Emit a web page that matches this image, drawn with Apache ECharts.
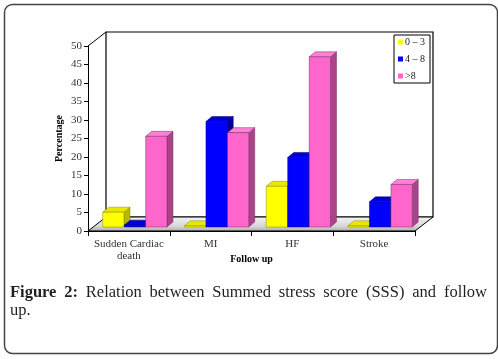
<!DOCTYPE html>
<html>
<head>
<meta charset="utf-8">
<script src="https://cdn.jsdelivr.net/npm/echarts@6/dist/echarts.min.js"></script>
<style>
  html, body { margin: 0; padding: 0; background: #fff; }
  #chart { width: 498px; height: 359px; }
</style>
</head>
<body>
<div id="chart"></div>
<script>
var categories = ['Sudden Cardiac\ndeath', 'MI', 'HF', 'Stroke'];
var groupNames = ['0 \u2013 3', '4 \u2013 8', '>8'];
var low = [4, 0.3, 11, 0.3];        // 0 - 3
var mid = [0.5, 28.5, 18.8, 6.8];   // 4 - 8
var high = [24.5, 25.5, 46, 11.5];  // >8
var yTicks = { min: 0, max: 50, step: 5 };

var faceColors = [
  { front: '#ffff00', top: '#e8e800', side: '#b8b800', line: '#8a8a00' },
  { front: '#0000ff', top: '#0000d8', side: '#000099', line: '#000066' },
  { front: '#ff66cc', top: '#ff80d4', side: '#a8458a', line: '#7a2f63' }
];

var DX = 6, DY = -5;       // bar depth
var WX = 18, WY = -14;     // wall depth

var chart = echarts.init(document.getElementById('chart'));

function toData(arr) {
  return arr.map(function (v, i) { return [i, v]; });
}

function wallsItem(params, api) {
  var band = api.size([1, 0])[0];
  var a = api.coord([0, yTicks.min]);
  var b = api.coord([categories.length - 1, yTicks.max]);
  var x1 = a[0] - band / 2, x2 = b[0] + band / 2;
  var y1 = b[1], y0 = a[1];
  return {
    type: 'group',
    children: [
      { type: 'polygon', shape: { points: [[x1 + WX, y1 + WY], [x2 + WX, y1 + WY], [x2 + WX, y0 + WY], [x1 + WX, y0 + WY]] },
        style: { fill: '#fff', stroke: '#000', lineWidth: 1.2 } },
      { type: 'polygon', shape: { points: [[x1, y0], [x1 + WX, y0 + WY], [x2 + WX, y0 + WY], [x2, y0]] },
        style: { fill: new echarts.graphic.LinearGradient(0, 1, 0, 0, [
          { offset: 0, color: '#a9a9a9' }, { offset: 0.35, color: '#d6d6d6' }, { offset: 1, color: '#f4f4f4' }]),
          stroke: '#000', lineWidth: 1 } },
      { type: 'line', shape: { x1: x1, y1: y1, x2: x1 + WX, y2: y1 + WY }, style: { stroke: '#000', lineWidth: 1 } }
    ]
  };
}

function makeBarRender(k) {
  var c = faceColors[k];
  return function (params, api) {
    var cat = api.value(0);
    var base = api.coord([cat, 0]);
    var top = api.coord([cat, api.value(1)]);
    var band = api.size([1, 0])[0];
    var w = band * 0.26;
    var x0 = base[0] - band * 0.32 + k * band * 0.263;
    var x1 = x0 + w;
    var yb = base[1] - 4, yt = top[1] - 4;
    return {
      type: 'group',
      children: [
        { type: 'polygon', shape: { points: [[x1, yb], [x1 + DX, yb + DY], [x1 + DX, yt + DY], [x1, yt]] },
          style: { fill: c.side, stroke: c.line, lineWidth: 0.5 } },
        { type: 'polygon', shape: { points: [[x0, yt], [x0 + DX, yt + DY], [x1 + DX, yt + DY], [x1, yt]] },
          style: { fill: c.top, stroke: c.line, lineWidth: 0.5 } },
        { type: 'rect', shape: { x: x0, y: yt, width: w, height: yb - yt },
          style: { fill: c.front, stroke: c.line, lineWidth: 0.5 } }
      ]
    };
  };
}

// justified caption, laid out word by word
var capFont = '"Liberation Serif", serif';
var ctx = document.createElement('canvas').getContext('2d');
var capWords = [
  { t: 'Figure', b: true }, { t: '2:', b: true }, { t: 'Relation' }, { t: 'between' },
  { t: 'Summed' }, { t: 'stress' }, { t: 'score' }, { t: '(SSS)' }, { t: 'and' }, { t: 'follow' }
];
var capLeft = 10, capRight = 487, capSize = 16.5;
var widths = capWords.map(function (w) {
  ctx.font = (w.b ? 'bold ' : '') + capSize + 'px ' + capFont;
  return ctx.measureText(w.t).width;
});
var total = widths.reduce(function (s, v) { return s + v; }, 0);
var gap = (capRight - capLeft - total) / (capWords.length - 1);
var captionEls = [];
var cx = capLeft;
capWords.forEach(function (w, i) {
  captionEls.push({
    type: 'text', x: cx, y: 293,
    style: { text: w.t, font: (w.b ? 'bold ' : '') + capSize + 'px ' + capFont, fill: '#231f20', verticalAlign: 'middle' }
  });
  cx += widths[i] + gap;
});
captionEls.push({
  type: 'text', x: capLeft, y: 311,
  style: { text: 'up.', font: capSize + 'px ' + capFont, fill: '#231f20', verticalAlign: 'middle' }
});

var option = {
  animation: false,
  textStyle: { fontFamily: 'Liberation Serif' },
  graphic: [
    { type: 'rect', left: 2, top: 2, shape: { width: 493, height: 349, r: 8 },
      style: { fill: 'none', stroke: '#444', lineWidth: 1.5 }, z: -1 }
  ].concat(captionEls),
  legend: {
    data: groupNames,
    orient: 'vertical',
    left: 394, top: 35,
    padding: [2, 5, 2, 4],
    itemGap: 7,
    itemWidth: 5, itemHeight: 5,
    icon: 'rect',
    backgroundColor: '#fff',
    borderColor: '#000', borderWidth: 1,
    textStyle: { fontSize: 10, color: '#222', fontFamily: 'Liberation Serif', padding: [0, 0, 0, -3] }
  },
  grid: { left: 88, right: 83, top: 46, bottom: 128 },
  xAxis: {
    type: 'category',
    data: categories,
    name: 'Follow up',
    nameLocation: 'middle',
    nameGap: 23,
    nameMoveOverlap: false,
    nameTextStyle: { fontWeight: 'bold', fontSize: 10, color: '#000' },
    axisLine: { lineStyle: { color: '#000', width: 1 } },
    axisTick: { show: true, length: 5, lineStyle: { color: '#000' } },
    axisLabel: { interval: 0, fontSize: 11, color: '#333', margin: 7, lineHeight: 12 },
    splitLine: { show: false }
  },
  yAxis: {
    type: 'value',
    min: yTicks.min, max: yTicks.max, interval: yTicks.step,
    name: 'Percentage',
    nameLocation: 'middle',
    nameGap: 24,
    nameMoveOverlap: false,
    nameRotate: 90,
    nameTextStyle: { fontWeight: 'bold', fontSize: 10, color: '#000' },
    axisLine: { show: true, lineStyle: { color: '#000', width: 1 } },
    axisTick: { show: true, length: 4, lineStyle: { color: '#000' } },
    axisLabel: { fontSize: 11, color: '#333', margin: 6 },
    splitLine: { show: false }
  },
  series: [
    { type: 'custom', name: 'walls', renderItem: wallsItem, data: [[0, 0]], z: 1, silent: true, clip: false },
    { type: 'custom', name: groupNames[0], renderItem: makeBarRender(0), data: toData(low), z: 3,
      itemStyle: { color: faceColors[0].front }, encode: { x: 0, y: 1 } },
    { type: 'custom', name: groupNames[1], renderItem: makeBarRender(1), data: toData(mid), z: 3,
      itemStyle: { color: faceColors[1].front }, encode: { x: 0, y: 1 } },
    { type: 'custom', name: groupNames[2], renderItem: makeBarRender(2), data: toData(high), z: 3,
      itemStyle: { color: faceColors[2].front }, encode: { x: 0, y: 1 } }
  ]
};

chart.setOption(option);
</script>
</body>
</html>
